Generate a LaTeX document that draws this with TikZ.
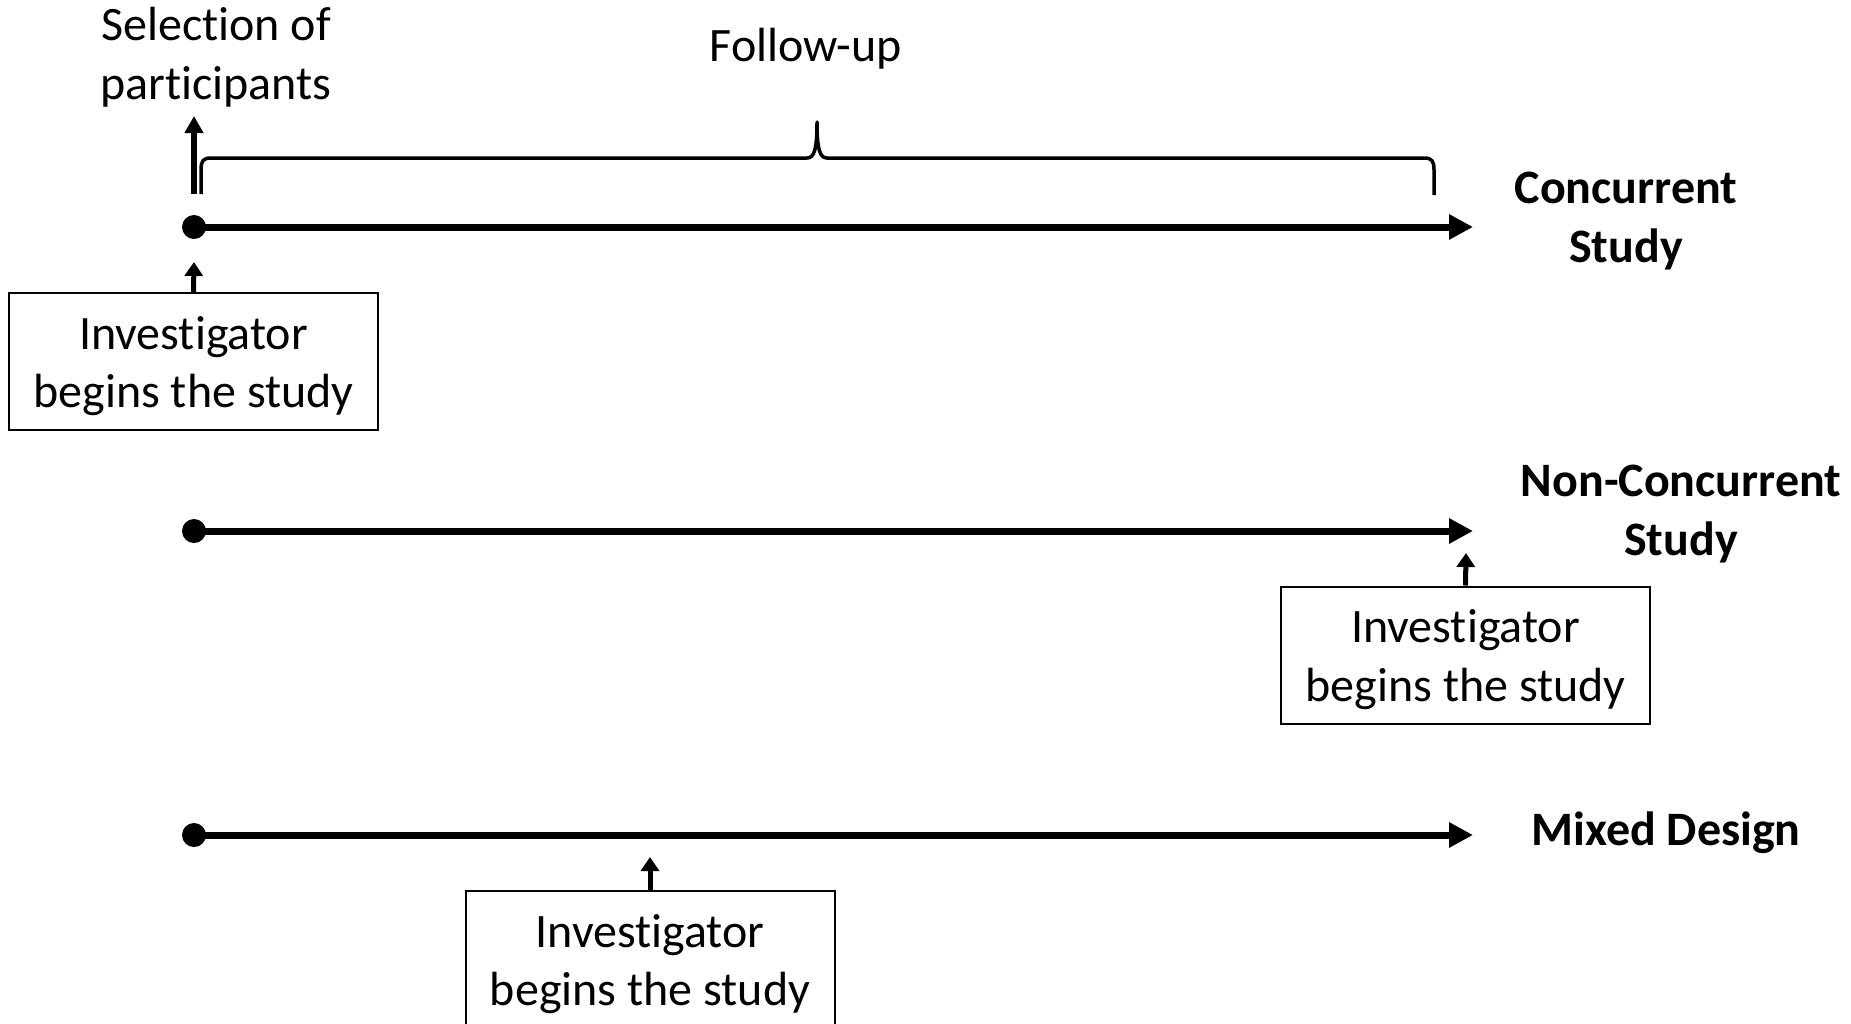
\documentclass[tikz,border=0pt]{standalone}
\usepackage{fontspec}
\setmainfont{Carlito}[Ligatures={NoCommon}]
\usetikzlibrary{arrows.meta}
\begin{document}
\begin{tikzpicture}[x=1pt,y=-1pt,
  txt/.style={font=\fontsize{48}{58.5}\selectfont, inner sep=0pt, align=center},
  heading/.style={font=\fontsize{48}{58.5}\selectfont\bfseries, inner sep=0pt, align=center},
  startdot/.style={circle, fill=black, minimum size=24pt, inner sep=0pt},
  timeline/.style={line width=7pt, -{Triangle[length=24pt,width=24pt]}},
  pointer/.style={line width=5pt, -{Triangle[length=14pt,width=18pt]}},
  tallpointer/.style={line width=6pt, -{Triangle[length=17pt,width=18pt]}},
  brace/.style={line width=3.5pt, line join=round},
  stepbox/.style={draw, line width=2pt, minimum width=369pt, minimum height=137pt,
    inner sep=0pt, align=center, font=\fontsize{48}{58.5}\selectfont}
]
\useasboundingbox (0,0) rectangle (1851,1023);

% ---- concurrent study ----
\node[startdot] (d1) at (194,227) {};
\coordinate (e1) at (1473,227);
\draw[timeline] (d1.center) -- (e1);
\node[heading] (h1) at (1626,221) {Concurrent\\Study};

\coordinate (selfoot) at (194,194);
\coordinate (seltip) at (194,116);
\draw[tallpointer] (selfoot) -- (seltip);
\node[txt] (sel) at (216,57) {Selection of\\participants};

\draw[brace] (201,194) -- (201,170)
  .. controls (201,161) and (203,158) .. (211,158) -- (807,158)
  .. controls (814,158) and (817,150) .. (817,122)
  .. controls (817,150) and (820,158) .. (827,158) -- (1424,158)
  .. controls (1432,158) and (1434,161) .. (1434,170) -- (1434,195);
\node[txt, anchor=base] (fu) at (806,61) {Follow-up};

% the strut gives the first line a fixed height so both lines sit low in the box
\node[stepbox] (b1) at (193.5,361.5) {\rule{0pt}{42pt}Investigator\\begins the study};
\coordinate (t1) at (194,262);
\draw[pointer] (b1.north) -- (t1);

% ---- non-concurrent study ----
\node[startdot] (d2) at (194,531) {};
\coordinate (e2) at (1473,531);
\draw[timeline] (d2.center) -- (e2);
\node[heading] (h2) at (1681,514) {Non-Concurrent\\Study};

\node[stepbox] (b2) at (1465.5,655) {\rule{0pt}{42pt}Investigator\\begins the study};
\coordinate (t2) at (1466,553);
\draw[pointer] (b2.north) -- (t2);

% ---- mixed design ----
\node[startdot] (d3) at (194,835) {};
\coordinate (e3) at (1473,835);
\draw[timeline] (d3.center) -- (e3);
\node[heading, anchor=base] (h3) at (1666,845) {Mixed Design};

\node[stepbox] (b3) at (650,959.5) {\rule{0pt}{42pt}Investigator\\begins the study};
\coordinate (t3) at (650,857);
\draw[pointer] (b3.north) -- (t3);
\end{tikzpicture}
\end{document}
